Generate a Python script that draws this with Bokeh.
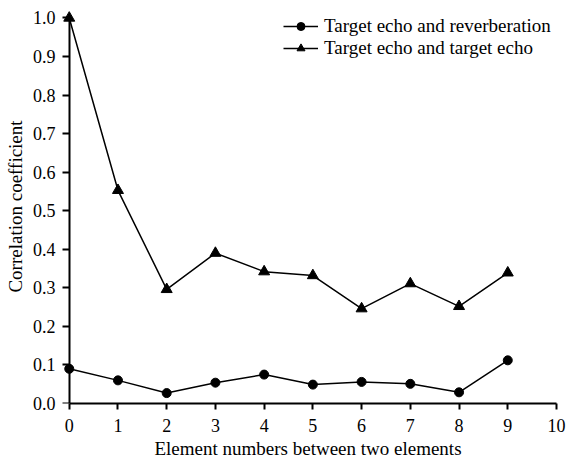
from bokeh.plotting import figure
from bokeh.embed import file_html
from bokeh.resources import INLINE
from bokeh.models import FixedTicker, PrintfTickFormatter, Range1d, Legend, LegendItem, LinearAxis

x_vals = [0, 1, 2, 3, 4, 5, 6, 7, 8, 9]
reverb = [0.090, 0.060, 0.027, 0.054, 0.075, 0.049, 0.056, 0.051, 0.029, 0.112]
target = [1.000, 0.553, 0.296, 0.390, 0.342, 0.332, 0.246, 0.311, 0.252, 0.339]
x_ticks = [0, 1, 2, 3, 4, 5, 6, 7, 8, 9, 10]
y_ticks = [0.0, 0.1, 0.2, 0.3, 0.4, 0.5, 0.6, 0.7, 0.8, 0.9, 1.0]

FONT = "Liberation Serif"

p = figure(width=566, height=461, output_backend="svg", toolbar_location=None,
           x_range=Range1d(-0.2, 10), y_range=Range1d(0, 1.022),
           min_border_left=59, min_border_right=10, min_border_top=9, min_border_bottom=0)
p.outline_line_color = None
p.xgrid.visible = False
p.ygrid.visible = False

l1 = p.line(x_vals, reverb, line_color="black", line_width=1.5)
m1 = p.scatter(x_vals, reverb, marker="circle", size=9, fill_color="black", line_color="black")
l2 = p.line(x_vals, target, line_color="black", line_width=1.5)
m2 = p.scatter(x_vals, target, marker="triangle", size=11, fill_color="black", line_color="black")

xa = p.xaxis[0]
xa.ticker = FixedTicker(ticks=x_ticks)
xa.bounds = (0, 10)
xa.axis_label = "Element numbers between two elements"
xa.major_tick_in = 0
xa.major_tick_out = 6
xa.major_label_standoff = 9
xa.axis_label_standoff = 3
xa.minor_tick_line_color = None
xa.axis_line_width = 2
xa.major_tick_line_width = 2

# labels-only left axis at the frame edge
ya = p.yaxis[0]
ya.ticker = FixedTicker(ticks=y_ticks)
ya.formatter = PrintfTickFormatter(format="%.1f")
ya.axis_label = "Correlation coefficient"
ya.axis_line_color = None
ya.major_tick_line_color = None
ya.minor_tick_line_color = None
ya.major_tick_in = 0
ya.major_tick_out = 0
ya.major_label_standoff = 4
ya.axis_label_standoff = 4

# rule and ticks of the y axis at x = 0
yr = LinearAxis(ticker=FixedTicker(ticks=y_ticks), fixed_location=0, bounds=(0, 1.0))
yr.major_label_text_font_size = "0px"
yr.major_label_text_alpha = 0
yr.major_tick_in = 0
yr.major_tick_out = 7
yr.minor_tick_line_color = None
yr.axis_line_width = 2
yr.major_tick_line_width = 2
yr.axis_line_color = "black"
yr.major_tick_line_color = "black"
p.add_layout(yr, "left")

for ax in (xa, ya):
    ax.major_label_text_font = FONT
    ax.major_label_text_font_size = "18px"
    ax.major_label_text_color = "black"
    ax.axis_label_text_font = FONT
    ax.axis_label_text_font_size = "19px"
    ax.axis_label_text_font_style = "normal"
    ax.axis_label_text_color = "black"
xa.axis_line_color = "black"
xa.major_tick_line_color = "black"

legend = Legend(items=[
    LegendItem(label="Target echo and reverberation", renderers=[l1, m1]),
    LegendItem(label="Target echo and target echo", renderers=[l2, m2]),
], location=(224, 344))
legend.border_line_color = None
legend.background_fill_alpha = 0
legend.padding = 0
legend.spacing = 0
legend.margin = 0
legend.glyph_width = 35
legend.glyph_height = 20
legend.label_height = 20
legend.label_standoff = 6
legend.label_text_font = FONT
legend.label_text_font_size = "19px"
legend.label_text_color = "black"
p.add_layout(legend, "center")

open("out.html", "w").write(file_html(p, INLINE))
